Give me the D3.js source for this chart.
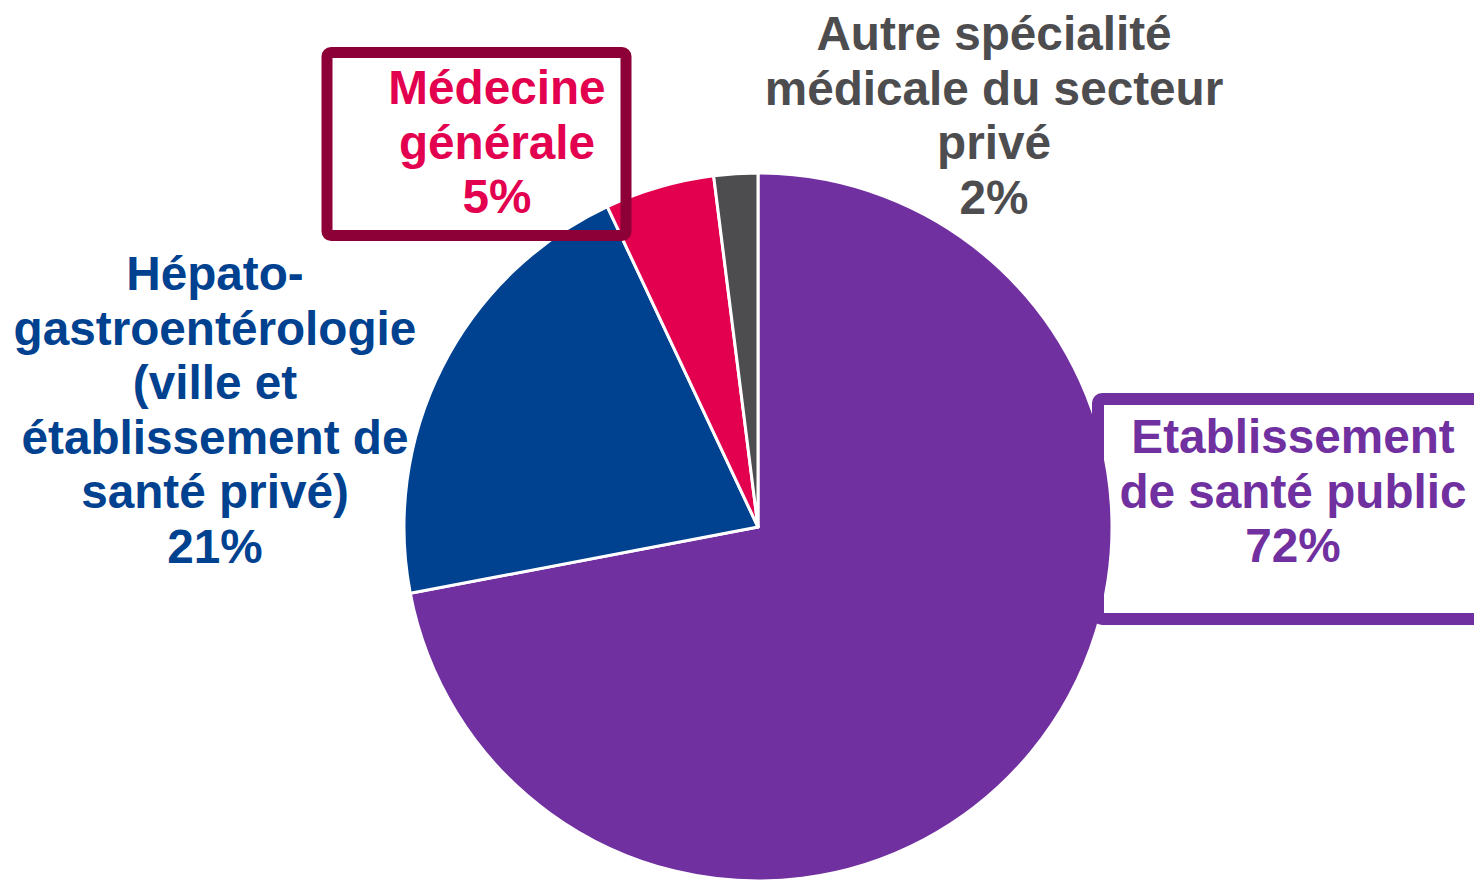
<!DOCTYPE html>
<html>
<head>
<meta charset="utf-8">
<script src="https://cdn.jsdelivr.net/npm/d3@7"></script>
<style>
  html, body { margin: 0; padding: 0; background: #ffffff; }
  svg { display: block; }
  text { font-family: "Liberation Sans", Arial, sans-serif; font-weight: bold; }
</style>
</head>
<body>
<svg id="chart" width="1474" height="883"></svg>
<script>
// Répartition par type de prescripteur (ordre horaire depuis 12 h)
const categories = [
  "Etablissement de santé public",
  "Hépato-gastroentérologie (ville et établissement de santé privé)",
  "Médecine générale",
  "Autre spécialité médicale du secteur privé"
];
const values = [72, 21, 5, 2];
const colors = ["#7030A0", "#004190", "#E2004F", "#4D4D4F"];

// Label text, line by line, for each slice
const labelLines = [
  ["Etablissement", "de santé public", "72%"],
  ["Hépato-", "gastroentérologie", "(ville et", "établissement de", "santé privé)", "21%"],
  ["Médecine", "générale", "5%"],
  ["Autre spécialité", "médicale du secteur", "privé", "2%"]
];
const labelColors = ["#7030A0", "#004190", "#E2004F", "#4D4D4F"];

const svg = d3.select("#chart");
const cx = 758, cy = 527, radius = 354;

const pie = d3.pie().sort(null).value(d => d)(values);
const arc = d3.arc().innerRadius(0).outerRadius(radius);

const g = svg.append("g").attr("transform", `translate(${cx},${cy})`);
g.selectAll("path")
  .data(pie)
  .join("path")
  .attr("d", arc)
  .attr("fill", (d, i) => colors[i])
  .attr("stroke", "#ffffff")
  .attr("stroke-width", 3)
  .attr("stroke-linejoin", "round");

// Framed callouts
const frames = [
  { x: 327, y: 52.5, w: 299, h: 183, color: "#8C0037", sw: 11 },
  { x: 1098, y: 399, w: 420, h: 220, color: "#7030A0", sw: 12 }
];
svg.selectAll("rect.frame")
  .data(frames)
  .join("rect")
  .attr("class", "frame")
  .attr("x", d => d.x).attr("y", d => d.y)
  .attr("width", d => d.w).attr("height", d => d.h)
  .attr("rx", 4)
  .attr("fill", "none")
  .attr("stroke", d => d.color)
  .attr("stroke-width", d => d.sw);

// Label anchors: center x and first baseline
const labelPos = [
  { x: 1293, y: 453 },
  { x: 215, y: 290 },
  { x: 497, y: 104 },
  { x: 994, y: 50 }
];
const lineHeight = 54.6;

labelLines.forEach((lines, i) => {
  const t = svg.append("text")
    .attr("x", labelPos[i].x)
    .attr("y", labelPos[i].y)
    .attr("text-anchor", "middle")
    .attr("font-size", 47.7)
    .attr("fill", labelColors[i]);
  lines.forEach((ln, j) => {
    t.append("tspan")
      .attr("x", labelPos[i].x)
      .attr("y", labelPos[i].y + j * lineHeight)
      .text(ln);
  });
});
</script>
</body>
</html>
